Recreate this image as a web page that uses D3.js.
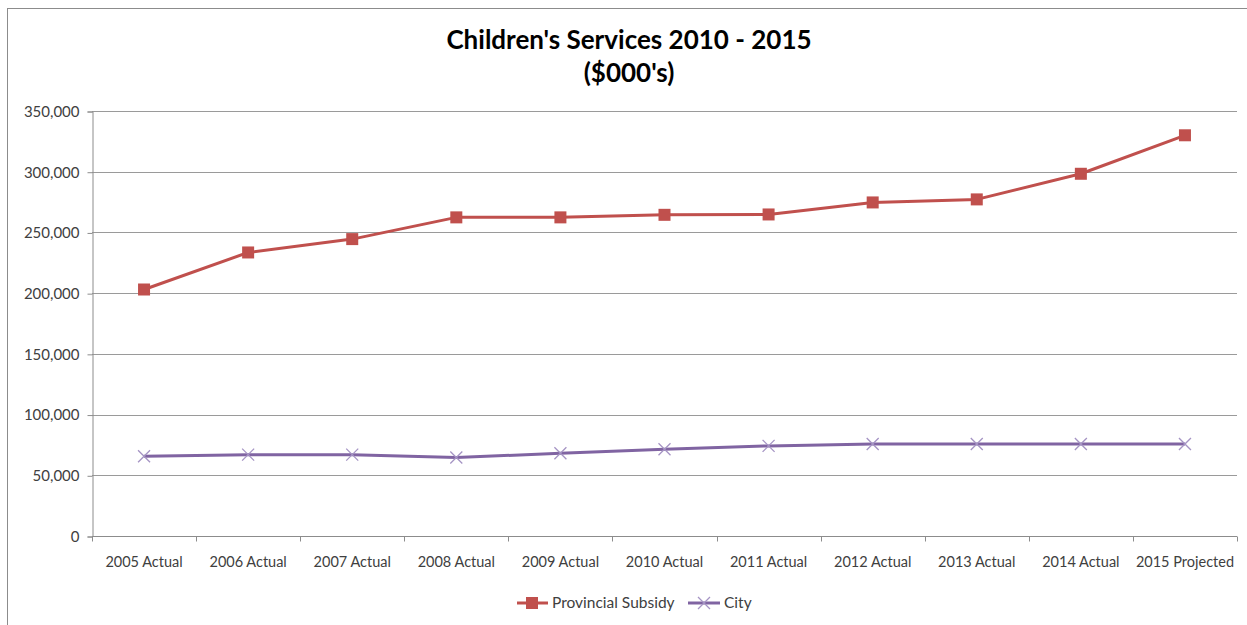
<!DOCTYPE html>
<html><head><meta charset="utf-8">
<script src="https://cdn.jsdelivr.net/npm/d3@7"></script>
<style>
html,body{margin:0;padding:0;background:#fff;}
svg{display:block;}
text{font-family:Lato,"Open Sans",sans-serif;}
</style></head>
<body>
<svg id="chart" width="1247" height="625"></svg>
<script>
const categories = ["2005 Actual","2006 Actual","2007 Actual","2008 Actual","2009 Actual","2010 Actual","2011 Actual","2012 Actual","2013 Actual","2014 Actual","2015 Projected"];
const provincialSubsidy = [203000,233500,244500,262400,262400,264500,264800,274700,277200,298300,330000];
const city = [65700,67000,67000,64700,68100,71400,74200,75800,75800,75800,75800];
const yTicks = [0,50000,100000,150000,200000,250000,300000,350000];
const seriesNames = ["Provincial Subsidy","City"];
const titleLines = ["Children's Services 2010 - 2015","($000's)"];

const svg = d3.select("#chart");
const W = 1247, H = 625;
const mLeft = 92, mRight = 1237, mTop = 111, mBottom = 536;

svg.append("rect").attr("x",7.5).attr("y",8.5).attr("width",W).attr("height",H)
  .attr("fill","#fff").attr("stroke","#8c8c8c").attr("stroke-width",1);

const x = d3.scaleBand().domain(categories).range([mLeft,mRight]).padding(0);
const y = d3.scaleLinear().domain([0,350000]).range([mBottom,mTop]);

// gridlines
svg.append("g").selectAll("line").data(yTicks.filter(d=>d>0)).join("line")
  .attr("x1",mLeft).attr("x2",mRight)
  .attr("y1",d=>Math.round(y(d))+0.5).attr("y2",d=>Math.round(y(d))+0.5)
  .attr("stroke","#9a9a9a").attr("stroke-width",1);

// y axis
const yAxis = d3.axisLeft(y).tickValues(yTicks).tickSize(5).tickPadding(8)
  .tickFormat(d3.format(","));
const gy = svg.append("g").attr("transform",`translate(${mLeft+0.5},0.5)`).call(yAxis);
gy.select(".domain").attr("stroke","#8c8c8c");
gy.selectAll(".tick line").attr("stroke","#8c8c8c");
gy.selectAll(".tick text").attr("fill","#404040").style("font-size","15px").style("font-family","Lato,'Open Sans',sans-serif");

// x axis
const gx = svg.append("g").attr("transform",`translate(0,${mBottom+0.5})`);
gx.append("line").attr("x1",mLeft).attr("x2",mRight).attr("stroke","#8c8c8c");
const bounds = categories.map(c=>x(c)).concat([mRight]);
gx.selectAll("line.tk").data(bounds).join("line").attr("class","tk")
  .attr("x1",d=>Math.round(d)+0.5).attr("x2",d=>Math.round(d)+0.5)
  .attr("y1",0).attr("y2",5).attr("stroke","#8c8c8c");
gx.selectAll("text").data(categories).join("text")
  .attr("x",d=>x(d)+x.bandwidth()/2).attr("y",30)
  .attr("text-anchor","middle").attr("fill","#404040").style("font-size","14.5px")
  .text(d=>d);

const cx = d=>x(d)+x.bandwidth()/2;
const line = d3.line().x((d,i)=>cx(categories[i])).y(d=>y(d));

// city
svg.append("path").datum(city).attr("d",line).attr("fill","none")
  .attr("stroke","#8064A2").attr("stroke-width",3).attr("stroke-linejoin","round");
svg.append("g").selectAll("path").data(city).join("path")
  .attr("transform",(d,i)=>`translate(${cx(categories[i])},${y(d)})`)
  .attr("d","M-6,-6L6,6M-6,6L6,-6").attr("stroke","#a594c4").attr("stroke-width",1.3).attr("fill","none");

// provincial
svg.append("path").datum(provincialSubsidy).attr("d",line).attr("fill","none")
  .attr("stroke","#C0504D").attr("stroke-width",3).attr("stroke-linejoin","round");
svg.append("g").selectAll("rect").data(provincialSubsidy).join("rect")
  .attr("x",(d,i)=>cx(categories[i])-6).attr("y",d=>y(d)-6)
  .attr("width",12).attr("height",12).attr("fill","#C0504D");

// title
svg.append("g").selectAll("text").data(titleLines).join("text")
  .attr("x",629).attr("y",(d,i)=>49+i*33).attr("text-anchor","middle")
  .style("font-size","26px").style("font-weight","bold").attr("fill","#000")
  .text(d=>d);

// legend
const lg = svg.append("g");
lg.append("line").attr("x1",517).attr("x2",548).attr("y1",603).attr("y2",603)
  .attr("stroke","#C0504D").attr("stroke-width",3);
lg.append("rect").attr("x",526).attr("y",597).attr("width",12).attr("height",12).attr("fill","#C0504D");
lg.append("text").attr("x",552).attr("y",608).style("font-size","15.5px").attr("fill","#404040").text(seriesNames[0]);
lg.append("line").attr("x1",688).attr("x2",720).attr("y1",603).attr("y2",603)
  .attr("stroke","#8064A2").attr("stroke-width",3);
lg.append("path").attr("transform","translate(704,603)").attr("d","M-6,-6L6,6M-6,6L6,-6")
  .attr("stroke","#a594c4").attr("stroke-width",1.3);
lg.append("text").attr("x",724).attr("y",608).style("font-size","15.5px").attr("fill","#404040").text(seriesNames[1]);
</script>
</body></html>
